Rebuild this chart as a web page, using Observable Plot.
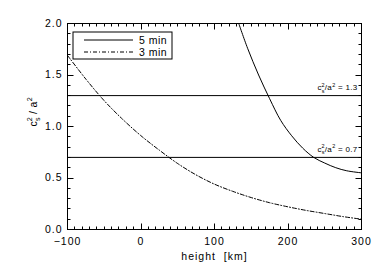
<!DOCTYPE html>
<html><head><meta charset="utf-8">
<script src="https://cdn.jsdelivr.net/npm/d3@7"></script>
<script src="https://cdn.jsdelivr.net/npm/@observablehq/plot@0.6"></script>
<style>
body{margin:0;background:#fff}
#chart svg{font-family:"Liberation Sans",Arial,sans-serif;letter-spacing:1px}
#chart svg .rich{letter-spacing:0.3px}
</style>
</head><body><div id="chart"></div>
<script>
// ---- data ----
const height5 = [133, 145, 160, 175, 190, 205, 220, 235, 250, 265, 280, 300];
const ratio5  = [2.00, 1.76, 1.50, 1.27, 1.06, 0.91, 0.79, 0.70, 0.645, 0.60, 0.57, 0.55];
const height3 = [-100, -75, -50, -25, 0, 25, 50, 75, 100, 125, 150, 175, 200, 225, 250, 275, 300];
const ratio3  = [1.69, 1.46, 1.25, 1.07, 0.91, 0.77, 0.64, 0.53, 0.44, 0.37, 0.31, 0.26, 0.22, 0.185, 0.155, 0.125, 0.10];
const seriesNames = ["5 min", "3 min"];
const seriesDash = [null, "4,2,1,2"];
const refValues = [1.3, 0.7];
const refLabels = ["1.3", "0.7"];
const xTicks = [-100, 0, 100, 200, 300];
const yTicks = [0.0, 0.5, 1.0, 1.5, 2.0];
const xMinor = d3.range(-100, 301, 10);
const yMinor = d3.range(0, 21, 1).map(d => d / 10);
const xLabel = "height  [km]";
const yLabel = "cs2 / a2";

const s5 = height5.map((h, i) => ({h, r: ratio5[i]}));
const s3 = height3.map((h, i) => ({h, r: ratio3[i]}));
const refs = refValues.map((v, i) => ({v, t: "cs2/a2 = " + refLabels[i]}));

const FS = 10.5;
const W = 382, H = 273, ML = 67, MR = 21, MT = 23, MB = 44;

const chart = Plot.plot({
  width: W, height: H,
  marginLeft: ML, marginRight: MR, marginTop: MT, marginBottom: MB,
  style: {fontSize: FS + "px", color: "#000", background: "#fff"},
  x: {domain: [-100, 300], label: null},
  y: {domain: [0, 2], label: null},
  marks: [
    Plot.axisX(xTicks, {anchor: "bottom", tickSize: 0, tickPadding: 8, label: null, tickFormat: d => d < 0 ? "\u2212" + (-d) : String(d)}),
    Plot.axisY(yTicks, {anchor: "left", tickSize: 0, tickPadding: 5, label: null, tickFormat: d3.format(".1f")}),
    Plot.ruleY(refs, {y: "v", stroke: "#000", strokeWidth: 1}),
    Plot.line(s5, {x: "h", y: "r", curve: "catmull-rom", stroke: "#000", strokeWidth: 1}),
    Plot.line(s3, {x: "h", y: "r", curve: "catmull-rom", stroke: "#000", strokeWidth: 1, strokeDasharray: seriesDash[1]}),
    Plot.text(refs, {y: "v", text: "t", frameAnchor: "right", textAnchor: "end", dx: -4, dy: -8, fontSize: 8, className: "rich"}),
    Plot.text([xLabel], {text: d => d, frameAnchor: "bottom", dy: 30}),
    Plot.text([yLabel], {text: d => d, frameAnchor: "left", rotate: -90, dx: -34, className: "rich"}),
    Plot.frame({stroke: "#000", strokeWidth: 1})
  ]
});
document.getElementById("chart").appendChild(chart);

// rich text: c with stacked subscript s and superscript 2
function richify(el) {
  const txt = el.textContent;
  const m = txt.match(/^cs2(\s*\/\s*)a2(.*)$/);
  if (!m) return;
  const F = parseFloat(getComputedStyle(el).fontSize) || FS;
  const sm = F * 0.68;
  el.textContent = "";
  const add = (t, o = {}) => {
    const ts = document.createElementNS("http://www.w3.org/2000/svg", "tspan");
    ts.textContent = t;
    if (o.fs) ts.setAttribute("font-size", o.fs);
    if (o.dy) ts.setAttribute("dy", o.dy);
    if (o.dx) ts.setAttribute("dx", o.dx);
    el.appendChild(ts);
    return ts;
  };
  add("c");
  add("s", {fs: sm, dy: 0.3 * F});
  add("2", {fs: sm, dy: -0.75 * F, dx: -0.6 * sm});
  add(m[1] + "a", {dy: 0.45 * F});
  add("2", {fs: sm, dy: -0.45 * F});
  add(m[2], {dy: 0.45 * F});
}
chart.querySelectorAll(".rich text").forEach(richify);

const svgSel = d3.select(chart);

// inward ticks on all four sides, positioned through Plot's own scales
(function drawTicks() {
  const sx = chart.scale("x"), sy = chart.scale("y");
  const tg = svgSel.append("g").attr("stroke", "#000").attr("stroke-width", 1);
  const fTop = MT + 0.5, fBottom = H - MB + 0.5, fLeft = ML + 0.5, fRight = W - MR + 0.5;
  xMinor.forEach(v => {
    const len = xTicks.includes(v) ? 6 : 3;
    const px = Math.round(sx.apply(v)) + 0.5;
    tg.append("line").attr("x1", px).attr("x2", px).attr("y1", fBottom).attr("y2", fBottom - len);
    tg.append("line").attr("x1", px).attr("x2", px).attr("y1", fTop).attr("y2", fTop + len);
  });
  yMinor.forEach(v => {
    const len = yTicks.includes(v) ? 6 : 3;
    const py = Math.round(sy.apply(v)) + 0.5;
    tg.append("line").attr("y1", py).attr("y2", py).attr("x1", fLeft).attr("x2", fLeft + len);
    tg.append("line").attr("y1", py).attr("y2", py).attr("x1", fRight).attr("x2", fRight - len);
  });
})();

// legend
const lg = svgSel.append("g").attr("font-size", FS);
lg.append("rect").attr("x", 73).attr("y", 32).attr("width", 99).attr("height", 27)
  .attr("fill", "#fff").attr("stroke", "#000");
seriesNames.forEach((name, i) => {
  const y = 40 + i * 12;
  lg.append("line").attr("x1", 84).attr("x2", 133).attr("y1", y).attr("y2", y)
    .attr("stroke", "#000").attr("stroke-dasharray", seriesDash[i]);
  lg.append("text").attr("x", 139).attr("y", y).attr("dy", "0.35em")
    .attr("text-anchor", "start").attr("fill", "#000").style("letter-spacing", "0.5px").text(name);
});
</script>
</body></html>
